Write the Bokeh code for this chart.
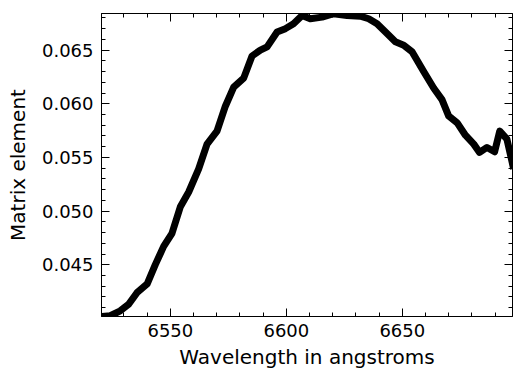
from bokeh.plotting import figure
from bokeh.models import Range1d, LinearAxis, SingleIntervalTicker, PrintfTickFormatter, CustomLabelingPolicy
from bokeh.embed import file_html
from bokeh.resources import INLINE

wavelength = [6520.5, 6524.1, 6528.4, 6532.0, 6535.6, 6540.0, 6543.5, 6547.1, 6550.7, 6554.3,
              6557.9, 6562.2, 6565.8, 6570.1, 6573.7, 6577.3, 6581.6, 6585.2, 6588.8, 6591.7,
              6596.0, 6599.6, 6603.1, 6606.8, 6610.3, 6615.4, 6620.4, 6626.2, 6631.9, 6635.5,
              6639.1, 6643.4, 6647.0, 6650.6, 6654.2, 6659.2, 6663.5, 6667.1, 6670.0, 6673.6,
              6677.2, 6680.8, 6683.3, 6686.5, 6689.8, 6692.0, 6695.1, 6698.0]
matrix = [0.04019, 0.04025, 0.04071, 0.04132, 0.04240, 0.04323, 0.04501, 0.04671, 0.04793, 0.05040,
          0.05178, 0.05393, 0.05624, 0.05746, 0.05977, 0.06156, 0.06239, 0.06445, 0.06500, 0.06530,
          0.06669, 0.06700, 0.06746, 0.06823, 0.06792, 0.06807, 0.06839, 0.06823, 0.06816, 0.06792,
          0.06746, 0.06654, 0.06577, 0.06546, 0.06484, 0.06300, 0.06147, 0.06039, 0.05885, 0.05824,
          0.05707, 0.05624, 0.05547, 0.05593, 0.05553, 0.05746, 0.05670, 0.05393]

x_label = "Wavelength in angstroms"
y_label = "Matrix element"

FONT = "DejaVu Sans"

p = figure(width=513, height=371, output_backend="svg", toolbar_location=None,
           x_range=Range1d(6520.3, 6697.5), y_range=Range1d(0.04018, 0.06841),
           min_border_left=101, min_border_right=1, min_border_top=13, min_border_bottom=52)
p.background_fill_color = "white"
p.border_fill_color = "white"
p.outline_line_color = "black"
p.outline_line_width = 1
p.xgrid.visible = False
p.ygrid.visible = False

p.line(wavelength, matrix, line_color="black", line_width=7, line_join="round", line_cap="butt")

xt = SingleIntervalTicker(interval=50, num_minor_ticks=5)
yt = SingleIntervalTicker(interval=0.005, num_minor_ticks=5)

def style(ax, labels=True):
    ax.axis_line_color = "black"
    ax.major_tick_line_color = "black"
    ax.minor_tick_line_color = "black"
    ax.major_tick_in = 8
    ax.major_tick_out = 0
    ax.minor_tick_in = 4
    ax.minor_tick_out = 0
    if labels:
        ax.major_label_text_font = FONT
        ax.major_label_text_font_size = "18px"
        ax.major_label_text_color = "black"
        ax.axis_label_text_font = FONT
        ax.axis_label_text_font_size = "20px"
        ax.axis_label_text_font_style = "normal"
        ax.axis_label_text_color = "black"
    else:
        ax.major_label_policy = CustomLabelingPolicy(code="return;")
        ax.major_label_text_font_size = "0px"
        ax.major_label_standoff = 0
        ax.axis_label_standoff = 0

xa = p.xaxis[0]
xa.ticker = xt
xa.axis_label = x_label
style(xa)
xa.major_label_standoff = 7
xa.axis_label_standoff = 5

ya = p.yaxis[0]
ya.ticker = yt
ya.axis_label = y_label
style(ya)
ya.major_label_standoff = 8
ya.axis_label_standoff = 9
ya.formatter = PrintfTickFormatter(format="%.3f")

top = LinearAxis(ticker=SingleIntervalTicker(interval=50, num_minor_ticks=5))
style(top, labels=False)
p.add_layout(top, "above")

right = LinearAxis(ticker=SingleIntervalTicker(interval=0.005, num_minor_ticks=5))
style(right, labels=False)
p.add_layout(right, "right")

open("out.html", "w").write(file_html(p, INLINE))
